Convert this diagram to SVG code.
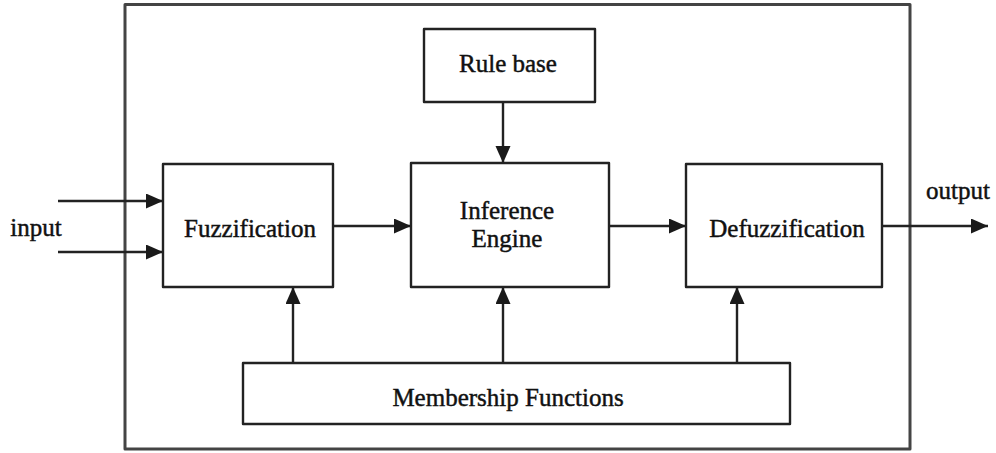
<svg xmlns="http://www.w3.org/2000/svg" width="996" height="453" viewBox="0 0 996 453">
<style>
.box{fill:#fff;stroke:#222;stroke-width:2.4;stroke-linejoin:round}
.outer{fill:none;stroke:#444;stroke-width:3;stroke-linejoin:round}
.lbl{font-family:"Liberation Serif","Times New Roman",serif;font-size:25px;fill:#111;stroke:#111;stroke-width:0.45;text-anchor:middle}
.con{stroke:#222;stroke-width:2.4;fill:none;marker-end:url(#ah)}
</style>
<defs>
<marker id="ah" markerUnits="userSpaceOnUse" markerWidth="18" markerHeight="16" refX="17" refY="7.5" orient="auto">
<path d="M0,0 L17,7.5 L0,15 Z" fill="#1a1a1a"/>
</marker>
</defs>
<rect class="outer" x="125" y="4.5" width="785" height="444.5"/>
<g id="connectors">
<line class="con" x1="58" y1="201" x2="163" y2="201"/>
<line class="con" x1="58" y1="252" x2="163" y2="252"/>
<line class="con" x1="333" y1="226" x2="411" y2="226"/>
<line class="con" x1="609" y1="226" x2="686" y2="226"/>
<line class="con" x1="882" y1="226" x2="988" y2="226"/>
<line class="con" x1="503" y1="102" x2="503" y2="163"/>
<line class="con" x1="293" y1="363" x2="293" y2="287"/>
<line class="con" x1="503" y1="363" x2="503" y2="287"/>
<line class="con" x1="737" y1="363" x2="737" y2="287"/>
</g>
<g id="input"><text class="lbl" x="36" y="236">input</text></g>
<g id="output"><text class="lbl" x="958" y="199">output</text></g>
<g id="rulebase">
<rect class="box" x="424" y="29" width="171" height="73"/>
<text class="lbl" x="508" y="72">Rule base</text>
</g>
<g id="fuzzification">
<rect class="box" x="163" y="164" width="170" height="123"/>
<text class="lbl" x="250" y="237">Fuzzification</text>
</g>
<g id="inference">
<rect class="box" x="411" y="163" width="198" height="124"/>
<text class="lbl" x="507" y="219">Inference</text>
<text class="lbl" x="507" y="247">Engine</text>
</g>
<g id="defuzzification">
<rect class="box" x="686" y="164" width="196" height="123"/>
<text class="lbl" x="787" y="237">Defuzzification</text>
</g>
<g id="membership">
<rect class="box" x="243" y="363" width="547" height="61"/>
<text class="lbl" x="508" y="406">Membership Functions</text>
</g>
</svg>
